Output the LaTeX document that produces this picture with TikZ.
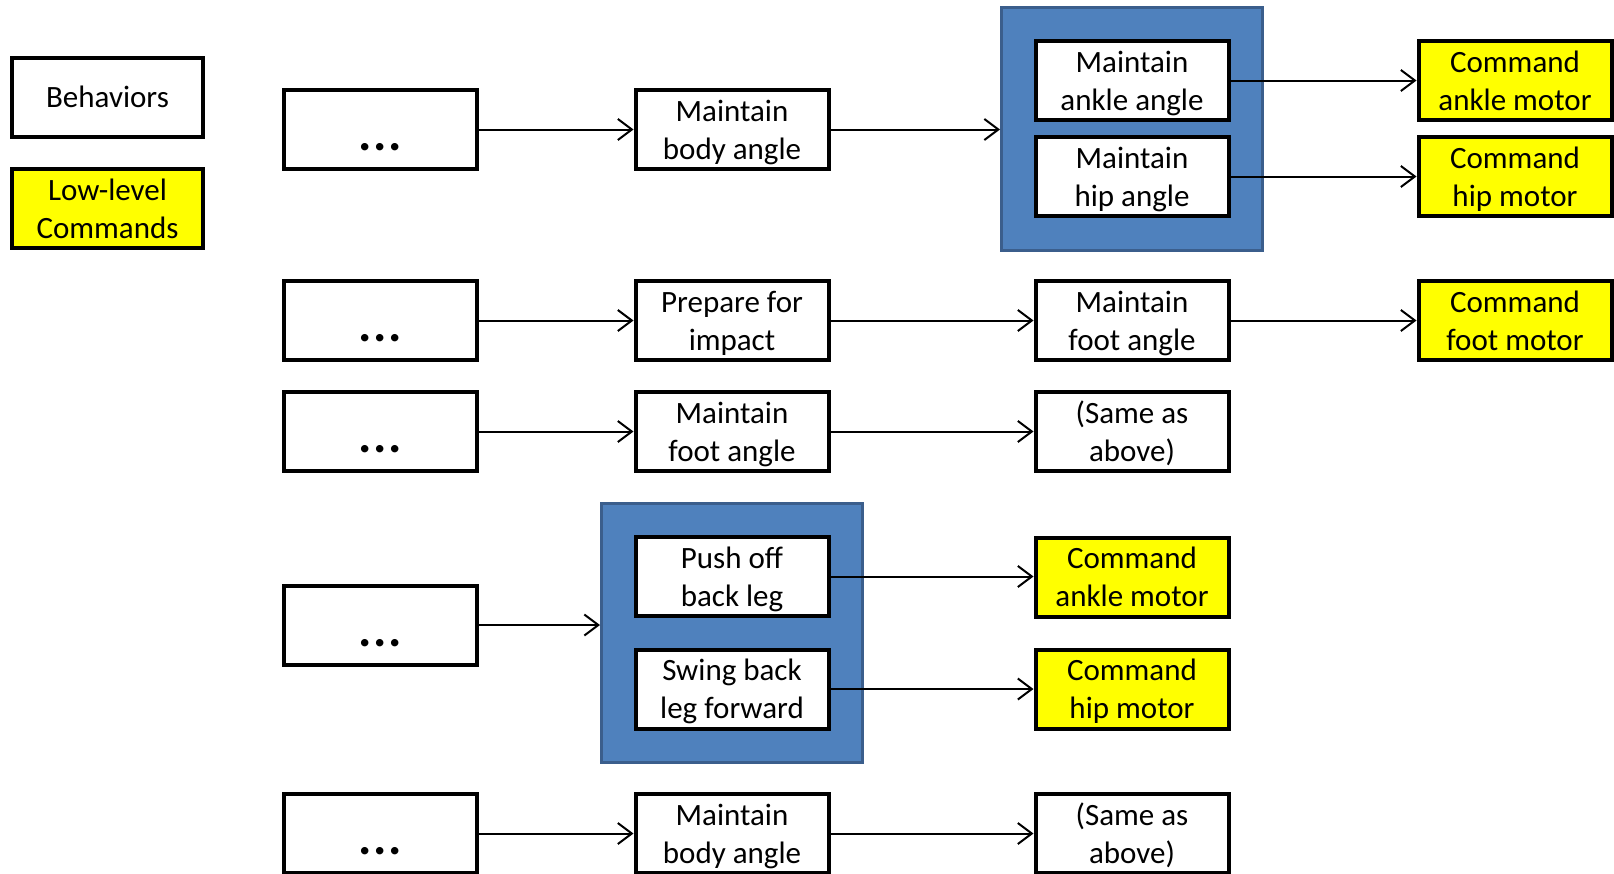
\documentclass[tikz,border=0pt]{standalone}
\usepackage{fontspec}
\setmainfont{Carlito}
\usetikzlibrary{arrows.meta,fit,backgrounds}
\definecolor{bluefill}{HTML}{4F81BD}
\definecolor{blueborder}{HTML}{3B5E8C}
\definecolor{cmdyellow}{HTML}{FFFF00}
\begin{document}
\begin{tikzpicture}[x=1pt,y=-1pt,
  box/.style={draw=black, line width=4pt, fill=white, minimum width=193pt, minimum height=79pt,
    inner sep=0pt, align=center, text depth=0pt, font=\fontsize{31}{38}\selectfont},
  cmd/.style={box, fill=cmdyellow},
  dotstext/.style={inner sep=0pt, font=\fontsize{50}{50}\selectfont\bfseries},
  group/.style={draw=blueborder, line width=3pt, fill=bluefill, inner sep=32pt},
  arr/.style={draw=black, line width=2pt, -{Straight Barb[length=14pt,width=21pt]}}
]
\useasboundingbox (0,0) rectangle (1614,873);
\clip (0,0) rectangle (1614,873);

% legend
\node[box, minimum width=191pt] (beh) at (107.5,97) {Behaviors};
\node[cmd, minimum width=191pt] (low) at (107.5,208.5) {Low-level\\Commands};

% row 1
\node[box] (d1) at (380,129.5) {};
\node[box] (b1) at (732,129.5) {Maintain\\body angle};
\node[box] (ma) at (1132,80.5) {Maintain\\ankle angle};
\node[box] (mh) at (1132,176.5) {Maintain\\hip angle};
\node[cmd] (ca) at (1515,80.5) {Command\\ankle motor};
\node[cmd] (ch) at (1515,176.5) {Command\\hip motor};

% row 2
\node[box] (d2) at (380,320.5) {};
\node[box] (p2) at (732,320.5) {Prepare for\\impact};
\node[box] (f2) at (1132,320.5) {Maintain\\foot angle};
\node[cmd] (cf) at (1515,320.5) {Command\\foot motor};

% row 3
\node[box] (d3) at (380,431.5) {};
\node[box] (f3) at (732,431.5) {Maintain\\foot angle};
\node[box] (s3) at (1132,431.5) {(Same as\\above)};

% row 4
\node[box] (d4) at (380,625) {};
\node[box] (po) at (732,576.5) {Push off\\back leg};
\node[box] (sw) at (732,689) {Swing back\\leg forward};
\node[cmd] (ca2) at (1132,577) {Command\\ankle motor};
\node[cmd] (ch2) at (1132,689) {Command\\hip motor};

% row 5
\node[box] (d5) at (380,833.5) {};
\node[box] (b5) at (732,833.5) {Maintain\\body angle};
\node[box] (s5) at (1132,833.5) {(Same as\\above)};

% dots
\foreach \d in {d1,d2,d3,d4,d5}
  \node[dotstext] (t\d) at ([yshift=-18pt]\d.center) {.\kern1.5pt.\kern1.5pt.};

% groups
\begin{scope}[on background layer]
  \node[group, fit=(ma)(mh)] (g1) {};
  \node[group, fit=(po)(sw)] (g2) {};
\end{scope}

% connectors
\draw[arr] (d1) -- (b1);
\draw[arr] (b1.east) -- (b1.east -| g1.west);
\draw[arr] (ma) -- (ca);
\draw[arr] (mh) -- (ch);

\draw[arr] (d2) -- (p2);
\draw[arr] (p2) -- (f2);
\draw[arr] (f2) -- (cf);

\draw[arr] (d3) -- (f3);
\draw[arr] (f3) -- (s3);

\draw[arr] (d4.east) -- (d4.east -| g2.west);
\draw[arr] (po.east) -- (po.east -| ca2.west);
\draw[arr] (sw) -- (ch2);

\draw[arr] (d5) -- (b5);
\draw[arr] (b5) -- (s5);
\end{tikzpicture}
\end{document}
